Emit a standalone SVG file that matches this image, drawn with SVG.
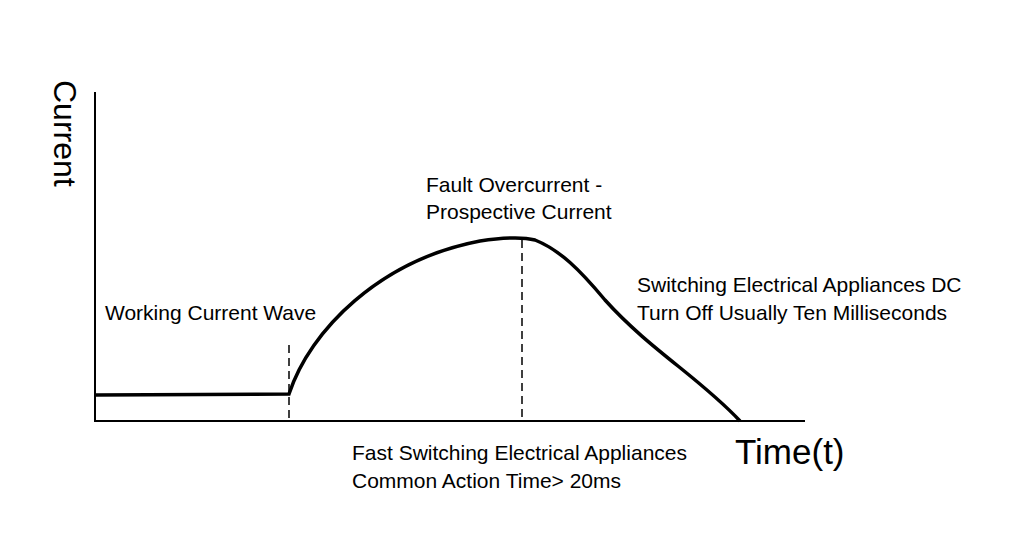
<svg xmlns="http://www.w3.org/2000/svg" width="1024" height="550" viewBox="0 0 1024 550">
<style>
text{font-family:"Liberation Sans",Arial,sans-serif;fill:#000}
.l{font-size:21px}
.ax{stroke:#000;stroke-width:2;fill:none}
.d{stroke:#000;stroke-width:1.5;stroke-dasharray:8,5;fill:none}
</style>
<rect width="1024" height="550" fill="#fff"/>
<g id="axes">
<path class="ax" d="M95,92 V421 H805"/>
</g>
<g id="curve">
<path d="M95,395 L289,394 C310,330 380,260 480,241 C500,238 520,236 535,240 C560,250 580,270 605,300 C650,350 700,378 740,421" stroke="#000" stroke-width="3.5" fill="none"/>
</g>
<g id="dashes">
<path class="d" d="M289,345 V421"/>
<path class="d" d="M522,240 V421"/>
</g>
<text x="0" y="0" font-size="32" transform="translate(54,80) rotate(90)">Current</text>
<text x="735" y="464" font-size="35">Time(t)</text>
<text class="l" x="105" y="320">Working Current Wave</text>
<text class="l" x="426" y="192">Fault Overcurrent -</text>
<text class="l" x="426" y="219">Prospective Current</text>
<text class="l" x="637" y="292">Switching Electrical Appliances DC</text>
<text class="l" x="637" y="320">Turn Off Usually Ten Milliseconds</text>
<text class="l" x="352" y="460">Fast Switching Electrical Appliances</text>
<text class="l" x="352" y="488">Common Action Time&gt; 20ms</text>
</svg>
